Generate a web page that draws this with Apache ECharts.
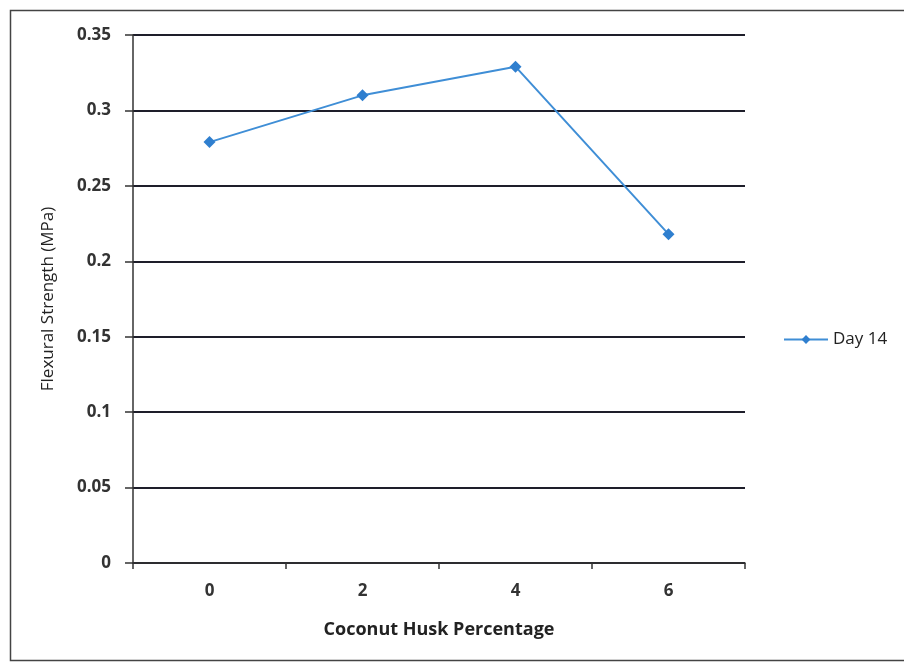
<!DOCTYPE html>
<html>
<head>
<meta charset="utf-8">
<script src="https://cdn.jsdelivr.net/npm/echarts@6/dist/echarts.min.js"></script>
<style>
  html, body { margin: 0; padding: 0; background: #fff; }
  #chart { width: 904px; height: 666px; }
</style>
</head>
<body>
<div id="chart"></div>
<script>
// Flexural strength at 14 days vs. coconut husk content
const categories = ['0', '2', '4', '6'];
const day14 = [0.279, 0.310, 0.329, 0.218];
const yTicks = { min: 0, max: 0.35, interval: 0.05 };

const chart = echarts.init(document.getElementById('chart'));
const font = 'Open Sans';
chart.setOption({
  animation: false,
  backgroundColor: '#fff',
  graphic: [{
    type: 'rect',
    shape: { x: 10.5, y: 10.5, width: 900, height: 650 },
    style: { fill: 'none', stroke: '#444', lineWidth: 1.5 }
  }],
  grid: { left: 133, right: 159, top: 35, bottom: 103 },
  legend: {
    data: ['Day 14'],
    orient: 'vertical',
    left: 778, top: 326,
    itemWidth: 44, itemHeight: 11,
    itemGap: 6,
    textStyle: { fontFamily: font, fontSize: 17, color: '#222' }
  },
  xAxis: {
    type: 'category',
    data: categories,
    boundaryGap: true,
    name: 'Coconut Husk Percentage',
    nameLocation: 'middle',
    nameGap: 58,
    nameTextStyle: { fontFamily: font, fontSize: 18, fontWeight: 'bold', color: '#222' },
    axisLine: { lineStyle: { color: '#333', width: 1.5 } },
    axisTick: { show: true, length: 6, inside: false, alignWithLabel: false, lineStyle: { color: '#333', width: 1.5 } },
    axisLabel: { fontFamily: font, fontSize: 17, fontWeight: 'bold', color: '#333', margin: 20 }
  },
  yAxis: {
    type: 'value',
    min: yTicks.min, max: yTicks.max, interval: yTicks.interval,
    name: 'Flexural Strength (MPa)',
    nameLocation: 'middle',
    nameGap: 76,
    nameTextStyle: { fontFamily: font, fontSize: 17, color: '#222' },
    axisLine: { show: true, lineStyle: { color: '#333', width: 1.5 } },
    axisTick: { show: true, length: 8, lineStyle: { color: '#333', width: 1.5 } },
    axisLabel: { fontFamily: font, fontSize: 17, fontWeight: 'bold', color: '#333', margin: 22,
      formatter: v => String(Number(v.toFixed(2))) },
    splitLine: { show: true, lineStyle: { color: '#1e1e2a', width: 2 } }
  },
  series: [{
    name: 'Day 14',
    type: 'line',
    data: day14,
    symbol: 'diamond',
    symbolSize: 12,
    lineStyle: { color: '#3f8ed6', width: 2 },
    itemStyle: { color: '#2f7fcf' }
  }]
});
</script>
</body>
</html>
